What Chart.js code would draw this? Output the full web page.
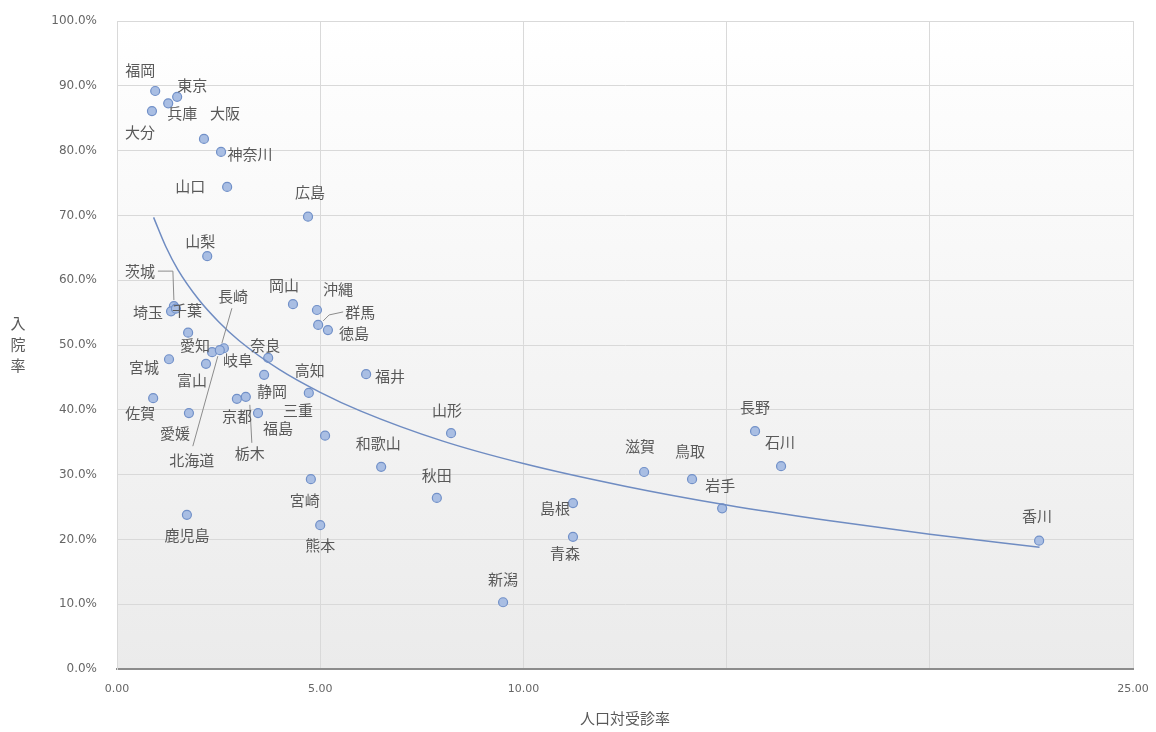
<!DOCTYPE html>
<html>
<head>
<meta charset="utf-8">
<script src="https://cdn.jsdelivr.net/npm/chart.js@4/dist/chart.umd.min.js"></script>
<style>
  body { margin: 0; background: #fff; }
  #wrap { width: 1156px; height: 732px; }
</style>
</head>
<body>
<div id="wrap"><canvas id="graf"></canvas></div>
<script>
// 都道府県ごとの値 (x: 人口対受診率, y: 入院率 %)
const ken = ['福岡','東京','兵庫','大阪','大分','神奈川','山口','広島','山梨','茨城','埼玉','千葉','長崎','岡山','沖縄','群馬','徳島','愛知','奈良','宮城','岐阜','高知','富山','静岡','福井','佐賀','京都','三重','愛媛','福島','山形','北海道','栃木','和歌山','長野','石川','滋賀','鳥取','秋田','岩手','宮崎','島根','鹿児島','熊本','青森','香川','新潟'];
const jushin = [0.94,1.48,1.26,2.14,0.86,2.56,2.71,4.70,2.22,1.40,1.33,1.45,2.63,4.33,4.92,4.95,5.19,1.75,3.72,1.28,2.34,4.72,2.19,3.62,6.13,0.89,2.95,5.12,1.77,3.47,8.22,2.53,3.17,6.50,15.70,16.34,12.97,14.15,7.87,14.89,4.77,11.22,1.72,5.00,11.22,22.69,9.50];
const nyuin = [89.2,88.3,87.3,81.8,86.1,79.8,74.4,69.8,63.7,56.0,55.2,55.6,49.5,56.3,55.4,53.1,52.3,51.9,48.0,47.8,48.9,42.6,47.1,45.4,45.5,41.8,41.7,36.0,39.5,39.5,36.4,49.2,42.0,31.2,36.7,31.3,30.4,29.3,26.4,24.8,29.3,25.6,23.8,22.2,20.4,19.8,10.3];

// 近似曲線
const kinjiX = [0.9,1.2,1.5,2,2.5,3,4,5,6,8,10,12.5,15,17.5,20,22.7];
const kinjiY = [69.7,65.2,61.6,57.1,53.6,50.7,46.2,42.7,39.8,35.2,31.7,28.2,25.3,22.9,20.8,18.8];

// 軸の目盛
const xTicks = [0,5,10,15,20,25];
const xTickLabels = ['0.00','5.00','10.00','','','25.00'];

// ラベル位置 (点からのずれ)
const labelPos = {
  '福岡':[-15,-21],'東京':[15,-12],'兵庫':[14,10],'大阪':[21,-26],'大分':[-12,21],
  '神奈川':[29,2],'山口':[-37,-1],'広島':[2,-24],'山梨':[-7,-15],'茨城':[-34,-35],
  '埼玉':[-23,1],'千葉':[11,2],'長崎':[9,-52],'岡山':[-9,-19],'沖縄':[21,-21],
  '群馬':[42,-13],'徳島':[26,3],'愛知':[7,13],'奈良':[-3,-13],'宮城':[-25,8],
  '岐阜':[26,8],'高知':[1,-23],'富山':[-14,17],'静岡':[8,16],'福井':[24,2],
  '佐賀':[-13,15],'京都':[0,18],'三重':[-27,-25],'愛媛':[-14,20],'福島':[20,15],
  '山形':[-4,-23],'北海道':[-28,110],'栃木':[4,56],'和歌山':[-3,-24],'長野':[0,-24],
  '石川':[-1,-24],'滋賀':[-4,-26],'鳥取':[-2,-28],'秋田':[0,-23],'岩手':[-2,-23],
  '宮崎':[-6,21],'島根':[-18,5],'鹿児島':[0,21],'熊本':[0,20],'青森':[-8,16],
  '香川':[-2,-24],'新潟':[0,-23]
};
const leaders = {
  '茨城':[[0,-6],[-1,-35],[-16,-35]],
  '長崎':[[-2,-5],[8,-40]],
  '北海道':[[-2,6],[-27,96]],
  '群馬':[[5,-4],[11,-10],[25,-13]],
  '栃木':[[4,8],[6,46]]
};

const pts = jushin.map((v, i) => ({x: v, y: nyuin[i]}));
const kinji = kinjiX.map((v, i) => ({x: v, y: kinjiY[i]}));

const haikei = {
  id: 'haikei',
  beforeDraw(chart) {
    const a = chart.chartArea, c = chart.ctx;
    const g = c.createLinearGradient(0, a.top, 0, a.bottom);
    g.addColorStop(0, '#ffffff');
    g.addColorStop(1, '#ebebeb');
    c.save();
    c.fillStyle = g;
    c.fillRect(a.left, a.top, a.right - a.left, a.bottom - a.top);
    c.restore();
  }
};

const rabel = {
  id: 'rabel',
  afterDatasetsDraw(chart) {
    const c = chart.ctx;
    const meta = chart.getDatasetMeta(1);
    c.save();
    c.strokeStyle = '#8c8c8c';
    c.lineWidth = 1;
    ken.forEach((k, i) => {
      const p = meta.data[i];
      if (leaders[k]) {
        c.beginPath();
        leaders[k].forEach((o, j) => {
          if (j == 0) c.moveTo(p.x + o[0], p.y + o[1]);
          else c.lineTo(p.x + o[0], p.y + o[1]);
        });
        c.stroke();
      }
    });
    c.font = '15px "Noto Sans CJK JP"';
    c.fillStyle = '#595959';
    c.textAlign = 'center';
    c.textBaseline = 'middle';
    ken.forEach((k, i) => {
      const p = meta.data[i];
      const o = labelPos[k] || [0, -22];
      c.fillText(k, p.x + o[0], p.y + o[1]);
    });
    // 軸タイトル
    const a = chart.chartArea;
    c.fillText('人口対受診率', (a.left + a.right) / 2, 718);
    const t = ['入', '院', '率'];
    t.forEach((ch, j) => c.fillText(ch, 18, (a.top + a.bottom) / 2 - 22 + j * 21));
    c.restore();
  }
};

new Chart(document.getElementById('graf'), {
  type: 'scatter',
  data: {
    datasets: [
      {
        type: 'line',
        data: kinji,
        borderColor: '#6f8cc2',
        borderWidth: 1.5,
        pointRadius: 0,
        cubicInterpolationMode: 'monotone',
        fill: false
      },
      {
        data: pts,
        backgroundColor: '#a9bee3',
        borderColor: '#7190c8',
        borderWidth: 1.2,
        pointRadius: 4.5
      }
    ]
  },
  options: {
    responsive: true,
    maintainAspectRatio: false,
    animation: false,
    layout: { padding: { left: 0, top: 21, right: 23, bottom: 0 } },
    plugins: { legend: { display: false }, tooltip: { enabled: false } },
    scales: {
      x: {
        type: 'linear',
        min: 0,
        max: 25,
        afterBuildTicks(s) { s.ticks = xTicks.map(v => ({value: v})); },
        afterFit(s) { s.height = 63; s.paddingLeft = 0; s.paddingRight = 0; },
        ticks: {
          padding: 14,
          maxRotation: 0,
          color: '#666',
          font: { family: 'DejaVu Sans', size: 11 },
          callback: (v) => xTickLabels[xTicks.indexOf(v)]
        },
        grid: { color: '#d9d9d9', drawTicks: false },
        border: { color: '#8c8c8c', width: 2 }
      },
      y: {
        min: 0,
        max: 100,
        afterFit(s) { s.width = 117; s.paddingTop = 0; s.paddingBottom = 0; },
        ticks: {
          stepSize: 10,
          padding: 20,
          color: '#666',
          font: { family: 'DejaVu Sans', size: 12 },
          callback: (v) => v.toFixed(1) + '%'
        },
        grid: { color: '#d9d9d9', drawTicks: false },
        border: { color: '#d9d9d9' }
      }
    }
  },
  plugins: [haikei, rabel]
});
</script>
</body>
</html>
